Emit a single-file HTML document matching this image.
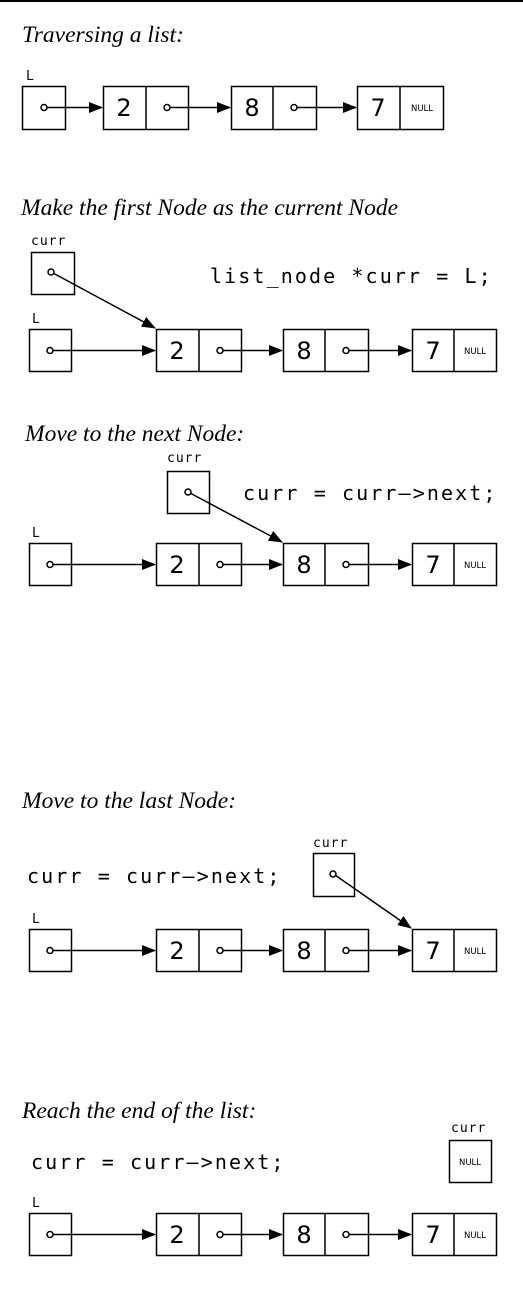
<!DOCTYPE html>
<html><head><meta charset="utf-8"><style>
body{margin:0;background:#fff}
svg{display:block}
.t{font-family:"Liberation Serif",serif;font-style:italic;font-size:23.5px}
.m{font-family:"DejaVu Sans Mono",monospace;font-size:13px;letter-spacing:1px}
.c{font-family:"DejaVu Sans Mono",monospace;font-size:20px;letter-spacing:2.1px}
.d{font-family:"DejaVu Sans",sans-serif;font-size:24px;text-anchor:middle}
.n{font-family:"DejaVu Sans",sans-serif;font-size:8.5px;text-anchor:middle}
</style></head><body>
<svg width="523" height="1306" viewBox="0 0 523 1306" xmlns="http://www.w3.org/2000/svg">
<defs>
<marker id="a" markerWidth="14" markerHeight="11" refX="13" refY="5.5" orient="auto" markerUnits="userSpaceOnUse"><path d="M0,0 L14,5.5 L0,11 Z" fill="#000"/></marker>
</defs>
<rect x="0" y="0" width="523" height="2" fill="#000"/>
<g fill="none" stroke="#000" stroke-width="1.5">
<rect x="22.5" y="86.5" width="43" height="43"/>
<rect x="103.5" y="86.5" width="85" height="43"/><line x1="146" y1="86" x2="146" y2="130"/>
<rect x="231.5" y="86.5" width="85" height="43"/><line x1="273" y1="86" x2="273" y2="130"/>
<rect x="357.5" y="86.5" width="86" height="43"/><line x1="400" y1="86" x2="400" y2="130"/>
<line x1="47" y1="107.5" x2="102" y2="107.5" marker-end="url(#a)"/>
<line x1="170" y1="107.5" x2="230" y2="107.5" marker-end="url(#a)"/>
<line x1="297" y1="107.5" x2="356" y2="107.5" marker-end="url(#a)"/>
<circle cx="44" cy="107.5" r="3" fill="#fff"/>
<circle cx="167" cy="107.5" r="3" fill="#fff"/>
<circle cx="294" cy="107.5" r="3" fill="#fff"/>
</g>
<text class="t" x="22" y="42">Traversing a list:</text>
<text class="m" x="26" y="80">L</text>
<text class="d" x="124" y="116">2</text>
<text class="d" x="252" y="116">8</text>
<text class="d" x="378" y="116">7</text>
<text class="n" x="422" y="111">NULL</text>

<text class="t" x="21" y="215">Make the first Node as the current Node</text>
<text class="m" x="31" y="245">curr</text>
<rect x="31.5" y="252.5" width="43" height="42" fill="none" stroke="#000" stroke-width="1.5"/>
<line x1="53" y1="273" x2="155" y2="328" stroke="#000" stroke-width="1.5" marker-end="url(#a)"/>
<circle cx="51" cy="272" r="3" fill="#fff" stroke="#000" stroke-width="1.5"/>
<text class="c" x="210" y="283">list_node *curr = L;</text>

<text class="t" x="25" y="441">Move to the next Node:</text>
<text class="m" x="167" y="462">curr</text>
<rect x="167.5" y="471.5" width="42" height="42" fill="none" stroke="#000" stroke-width="1.5"/>
<line x1="190" y1="493" x2="282" y2="542" stroke="#000" stroke-width="1.5" marker-end="url(#a)"/>
<circle cx="188" cy="492" r="3" fill="#fff" stroke="#000" stroke-width="1.5"/>
<text class="c" x="243" y="500">curr = curr—&gt;next;</text>

<text class="t" x="22" y="808">Move to the last Node:</text>
<text class="m" x="313" y="847">curr</text>
<rect x="313.5" y="853.5" width="41" height="43" fill="none" stroke="#000" stroke-width="1.5"/>
<line x1="335" y1="875" x2="411" y2="928" stroke="#000" stroke-width="1.5" marker-end="url(#a)"/>
<circle cx="333" cy="874" r="3" fill="#fff" stroke="#000" stroke-width="1.5"/>
<text class="c" x="27" y="883">curr = curr—&gt;next;</text>

<text class="t" x="22" y="1118">Reach the end of the list:</text>
<text class="m" x="451" y="1132">curr</text>
<rect x="449.5" y="1140.5" width="42" height="42" fill="none" stroke="#000" stroke-width="1.5"/>
<text class="n" x="470" y="1165">NULL</text>
<text class="c" x="31" y="1169">curr = curr—&gt;next;</text>

<g id="rowB">
<g fill="none" stroke="#000" stroke-width="1.5">
<rect x="29.5" y="329.5" width="42" height="42"/>
<rect x="156.5" y="329.5" width="85" height="42"/><line x1="199" y1="329" x2="199" y2="372"/>
<rect x="283.5" y="329.5" width="85" height="42"/><line x1="325" y1="329" x2="325" y2="372"/>
<rect x="412.5" y="329.5" width="84" height="42"/><line x1="454" y1="329" x2="454" y2="372"/>
<line x1="53" y1="350.5" x2="155" y2="350.5" marker-end="url(#a)"/>
<line x1="223" y1="350.5" x2="282" y2="350.5" marker-end="url(#a)"/>
<line x1="349" y1="350.5" x2="411" y2="350.5" marker-end="url(#a)"/>
<circle cx="50" cy="350.5" r="3" fill="#fff"/>
<circle cx="220" cy="350.5" r="3" fill="#fff"/>
<circle cx="346" cy="350.5" r="3" fill="#fff"/>
</g>
<text class="m" x="32" y="323">L</text>
<text class="d" x="177" y="359">2</text>
<text class="d" x="304" y="359">8</text>
<text class="d" x="433" y="359">7</text>
<text class="n" x="475" y="354">NULL</text>
</g>
<use href="#rowB" y="214"/>
<use href="#rowB" y="600"/>
<use href="#rowB" y="884"/>
</svg>
</body></html>
